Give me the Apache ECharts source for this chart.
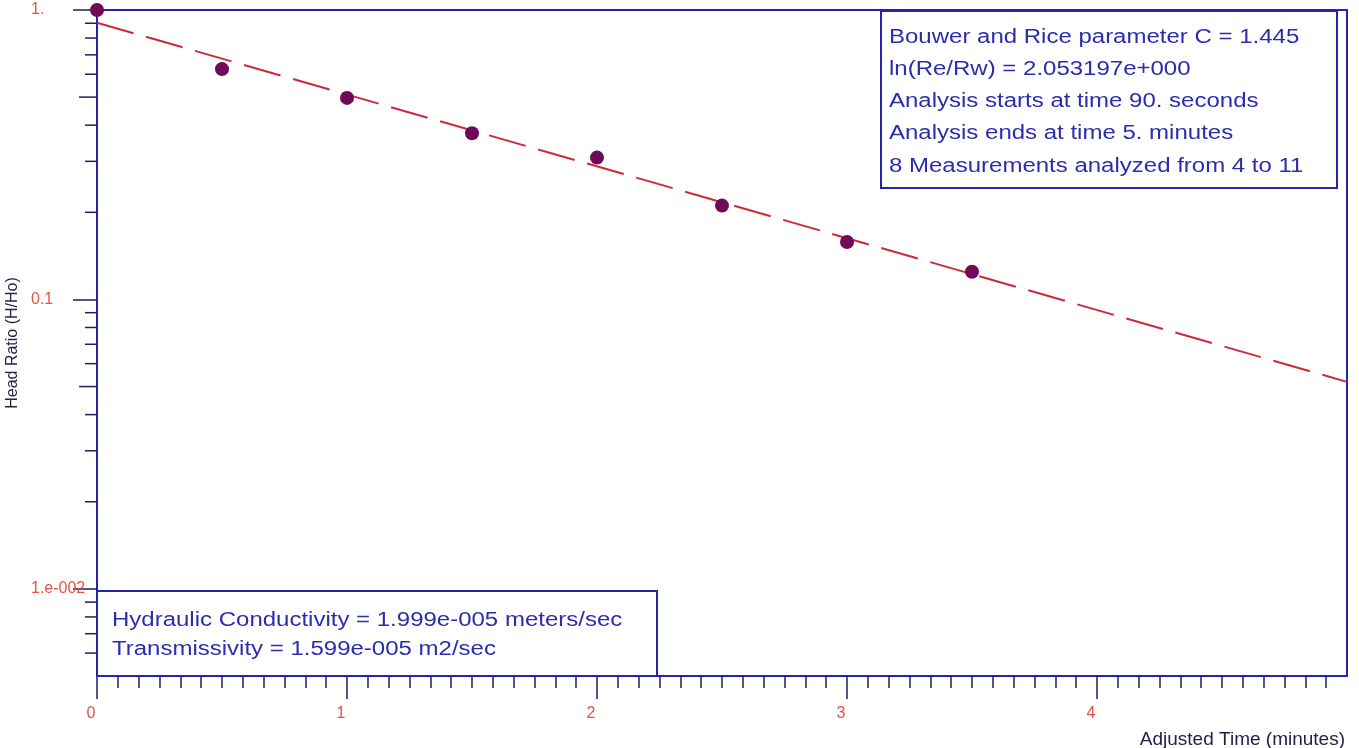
<!DOCTYPE html>
<html>
<head>
<meta charset="utf-8">
<script src="https://cdn.jsdelivr.net/npm/echarts@6.0.0/dist/echarts.min.js"></script>
<style>
html,body{margin:0;padding:0;background:#ffffff;}
#chart{width:1359px;height:748px;}
</style>
</head>
<body>
<div id="chart"></div>
<script>
// ---- data ----
const measuredTimes = [0, 0.5, 1, 1.5, 2, 2.5, 3, 3.5];
const headRatios = [1.0, 0.625, 0.497, 0.375, 0.309, 0.211, 0.158, 0.1246];
const fitTimes = [0, 5];
const fitRatios = [0.904, 0.0519];
const xTickValues = [0, 1, 2, 3, 4];
const xTickLabels = ['0', '1', '2', '3', '4'];
const yTickValues = [0.01, 0.1, 1];
const yTickLabels = ['1.e-002', '0.1', '1.'];
const yMinorTickValues = [0.9, 0.8, 0.7, 0.6, 0.5, 0.4, 0.3, 0.2,
  0.09, 0.08, 0.07, 0.06, 0.05, 0.04, 0.03, 0.02,
  0.009, 0.008, 0.007, 0.006];
const xAxisTitle = 'Adjusted Time (minutes)';
const yAxisTitle = 'Head Ratio (H/Ho)';
const resultsLines = [
  'Bouwer and Rice parameter C = 1.445',
  'ln(Re/Rw) = 2.053197e+000',
  'Analysis starts at time 90. seconds',
  'Analysis ends at time 5. minutes',
  '8 Measurements analyzed from 4 to 11'
];
const conductivityLines = [
  'Hydraulic Conductivity = 1.999e-005 meters/sec',
  'Transmissivity = 1.599e-005 m2/sec'
];

// ---- styling ----
const BLUE = '#2424b2';
const TICK = '#1e1e66';
const LABEL_RED = '#e5534b';
const TEXT_BLUE = '#2c2cae';
const FONT = '"Liberation Sans", Arial, sans-serif';

function textLines(lines, x0, y0, step) {
  return lines.map((t, i) => ({
    type: 'text',
    x: x0,
    y: y0 + i * step,
    scaleX: 1.2,
    z: 101,
    style: {
      text: t,
      x: 0, y: 0,
      fill: TEXT_BLUE,
      fontSize: 20,
      fontFamily: FONT,
      align: 'left',
      verticalAlign: 'middle'
    }
  }));
}

const chart = echarts.init(document.getElementById('chart'), null, {renderer: 'canvas'});

const option = {
  animation: false,
  backgroundColor: '#ffffff',
  grid: {
    left: 97, right: 12, top: 10, bottom: 72,
    containLabel: false,
    outerBoundsMode: 'none',
    show: true, borderColor: BLUE, borderWidth: 2, backgroundColor: 'transparent'
  },
  xAxis: {
    type: 'value',
    min: 0, max: 5, interval: 1,
    name: xAxisTitle,
    nameLocation: 'end',
    nameGap: 0,
    nameTextStyle: {
      color: '#22224a', fontSize: 19, fontFamily: FONT,
      align: 'right', verticalAlign: 'top', padding: [54, 2, 0, 0]
    },
    axisLine: {show: true, onZero: false, lineStyle: {color: BLUE, width: 2}},
    axisTick: {show: true, inside: false, length: 23, customValues: xTickValues,
      lineStyle: {color: TICK, width: 1.5}},
    minorTick: {show: true, splitNumber: 12, length: 12, lineStyle: {color: TICK, width: 1.5}},
    splitLine: {show: false},
    minorSplitLine: {show: false},
    axisLabel: {
      customValues: xTickValues,
      formatter: v => { const i = xTickValues.indexOf(v); return i >= 0 ? xTickLabels[i] : ''; },
      color: LABEL_RED, fontSize: 16, fontFamily: FONT, margin: 30,
      padding: [0, 12, 0, 0]
    }
  },
  yAxis: {
    type: 'log',
    logBase: 10,
    min: 0.005, max: 1,
    name: yAxisTitle,
    nameLocation: 'middle',
    nameGap: 66,
    nameRotate: 90,
    nameTextStyle: {color: '#22224a', fontSize: 16, fontFamily: FONT},
    axisLine: {show: true, onZero: false, lineStyle: {color: BLUE, width: 2}},
    axisTick: {show: true, inside: false, length: 24, customValues: yTickValues,
      lineStyle: {color: TICK, width: 1.5}},
    splitLine: {show: false},
    axisLabel: {
      customValues: yTickValues,
      formatter: v => {
        let best = 0, d = Infinity;
        yTickValues.forEach((t, i) => { const dd = Math.abs(Math.log10(v) - Math.log10(t)); if (dd < d) { d = dd; best = i; } });
        return d < 0.01 ? yTickLabels[best] : '';
      },
      color: LABEL_RED, fontSize: 16, fontFamily: FONT,
      align: 'left', margin: 66, verticalAlign: 'middle'
    }
  },
  series: [
    {
      name: 'minor y ticks',
      type: 'custom',
      silent: true,
      clip: false,
      z: 3,
      data: yMinorTickValues.map(v => [0, v]),
      renderItem: function (params, api) {
        const v = api.value(1);
        const p = api.coord([api.value(0), v]);
        const mant = v / Math.pow(10, Math.floor(Math.log10(v) + 1e-9));
        const len = Math.abs(mant - 5) < 1e-6 ? 18 : 12;
        return {
          type: 'line',
          shape: {x1: p[0] - len, y1: p[1], x2: p[0], y2: p[1]},
          style: {stroke: TICK, lineWidth: 1.5}
        };
      }
    },
    {
      name: 'Fit',
      type: 'line',
      data: fitTimes.map((t, i) => [t, fitRatios[i]]),
      showSymbol: false,
      silent: true,
      z: 4,
      lineStyle: {color: '#cc2a36', width: 2, type: [38, 13]}
    },
    {
      name: 'Measured',
      type: 'scatter',
      data: measuredTimes.map((t, i) => [t, headRatios[i]]),
      symbol: 'circle',
      symbolSize: 14,
      clip: false,
      z: 5,
      itemStyle: {color: '#6e0a58', opacity: 1}
    }
  ],
  graphic: [
    {type: 'rect', z: 100, shape: {x: 881, y: 11, width: 456, height: 177},
      style: {fill: '#ffffff', stroke: BLUE, lineWidth: 2}},
    ...textLines(resultsLines, 889, 37, 32.3),
    {type: 'rect', z: 100, shape: {x: 97, y: 591, width: 560, height: 85},
      style: {fill: '#ffffff', stroke: BLUE, lineWidth: 2}},
    ...textLines(conductivityLines, 112, 620, 29.5)
  ]
};

chart.setOption(option);
</script>
</body>
</html>
